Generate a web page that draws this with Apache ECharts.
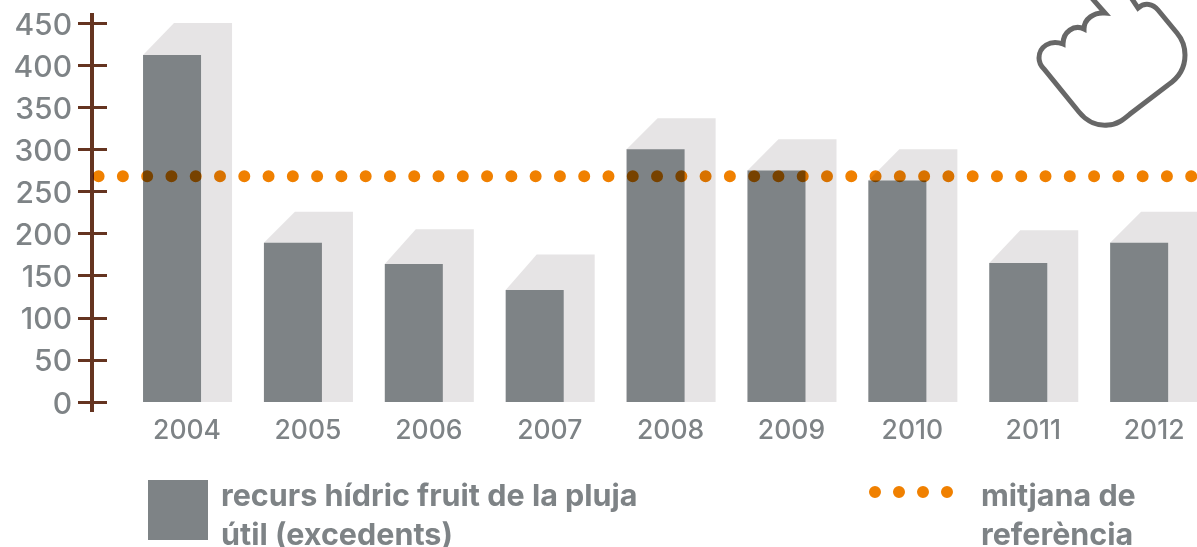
<!DOCTYPE html>
<html><head><meta charset="utf-8">
<style>html,body{margin:0;padding:0;background:#fff}#c{width:1197px;height:547px}</style>
<script src="https://cdn.jsdelivr.net/npm/echarts@6/dist/echarts.min.js"></script>
</head><body><div id="c"></div>
<script>
const categories = ['2004','2005','2006','2007','2008','2009','2010','2011','2012'];
const excedents = [412,189,164,133,300,275,263,165,189];
const shadowTops = [450,226,205,175,337,312,300,204,226];
const referenceMean = [268];
const yTicks = {min:0,max:450,interval:50};
const barName = 'recurs hídric fruit de la pluja\nútil (excedents)';
const lineName = 'mitjana de\nreferència';
const GREY='#7e8386', LIGHT='#e6e4e5', BROWN='#653420', ORANGE='#f08000', FONT='Inter';
const rectIcon='path://M0 0H60V60H0ZM0 72L0.01 72';
const dotsIcon='path://M6 0a6 6 0 1 0 0 12a6 6 0 1 0 0-12zM30 0a6 6 0 1 0 0 12a6 6 0 1 0 0-12zM54 0a6 6 0 1 0 0 12a6 6 0 1 0 0-12zM78 0a6 6 0 1 0 0 12a6 6 0 1 0 0-12zM0 60L0.01 60';
const handPath='M1090 -4L1105 13C1094 12 1084 19 1084 29C1074 24 1063 32 1063 44C1050 39 1039 47 1039 58C1039 63 1041 66 1044 69L1079 112C1087 122 1098 126 1108 125C1117 125 1124 119 1130 114L1168 85C1180 77 1185 66 1185 55C1185 46 1182 39 1177 33L1158 10C1153 4 1145 2 1138 8L1130 -4';
const chart=echarts.init(document.getElementById('c'),null,{renderer:'canvas'});
const yAxisBase={type:'value',position:'left',offset:19.6,min:yTicks.min,max:yTicks.max,interval:yTicks.interval,splitLine:{show:false},
  axisLine:{show:true,onZero:false,lineStyle:{color:BROWN,width:4},symbol:['rect','rect'],symbolSize:[4,20]}};
const legendText={color:GREY,fontFamily:FONT,fontWeight:700,fontSize:30.5,lineHeight:39};
chart.setOption({
  animation:false,backgroundColor:'#fff',
  grid:{left:111.6,width:1088,top:23,bottom:145,containLabel:false,outerBoundsMode:'none'},
  xAxis:{type:'category',data:categories,axisLine:{show:false},axisTick:{show:false},
    axisLabel:{interval:0,color:GREY,fontFamily:FONT,fontWeight:500,fontSize:26.5,margin:16,padding:[0,0,0,30]}},
  yAxis:[
    Object.assign({},yAxisBase,{axisTick:{show:true,length:14,lineStyle:{color:BROWN,width:3}},
      axisLabel:{color:GREY,fontFamily:FONT,fontWeight:500,fontSize:30,margin:20,verticalAlign:'top',lineHeight:5}}),
    Object.assign({},yAxisBase,{axisTick:{show:true,inside:true,length:15,lineStyle:{color:BROWN,width:3}},axisLabel:{show:false}})
  ],
  legend:[
    {left:143,top:472,data:[{name:barName,icon:rectIcon}],itemWidth:60,itemHeight:72,selectedMode:false,
      textStyle:Object.assign({},legendText,{padding:[0,0,0,8]})},
    {left:864,top:472,data:[{name:lineName,icon:dotsIcon}],itemWidth:84,itemHeight:60,selectedMode:false,
      textStyle:Object.assign({},legendText,{padding:[0,0,0,23]})}
  ],
  series:[
    {type:'custom',name:'shadow',z:1,silent:true,data:excedents.map((v,i)=>[i,v,shadowTops[i]]),
     renderItem(p,api){
       const t=api.coord([api.value(0),api.value(1)]);const b=api.coord([api.value(0),0]);
       const s=api.coord([api.value(0),api.value(2)]);
       const l=t[0]-29,r=t[0]+29;
       return {type:'polygon',shape:{points:[[l,t[1]],[l+31,s[1]],[r+31,s[1]],[r+31,b[1]],[l,b[1]]]},style:{fill:LIGHT}};
     }},
    {type:'bar',name:barName,z:2,barWidth:58,data:excedents,itemStyle:{color:GREY},silent:true},
    {type:'custom',name:lineName,z:5,silent:true,blendMode:'multiply',data:referenceMean.map(v=>[0,v]),itemStyle:{color:ORANGE},clip:false,
     renderItem(p,api){
       const y=api.coord([0,api.value(1)])[1];
       return {type:'line',shape:{x1:98.6,y1:y,x2:1210,y2:y},
         style:{stroke:ORANGE,lineWidth:12,lineCap:'round',lineDash:[0,24.28],fill:null}};
     }},
    {type:'custom',name:'hand',z:6,silent:true,data:[[0,0]],clip:false,
     renderItem(){
       return {type:'path',shape:{pathData:handPath},style:{fill:'#fff',stroke:'#676767',lineWidth:5,lineJoin:'miter'}};
     }}
  ]
});
</script></body></html>
